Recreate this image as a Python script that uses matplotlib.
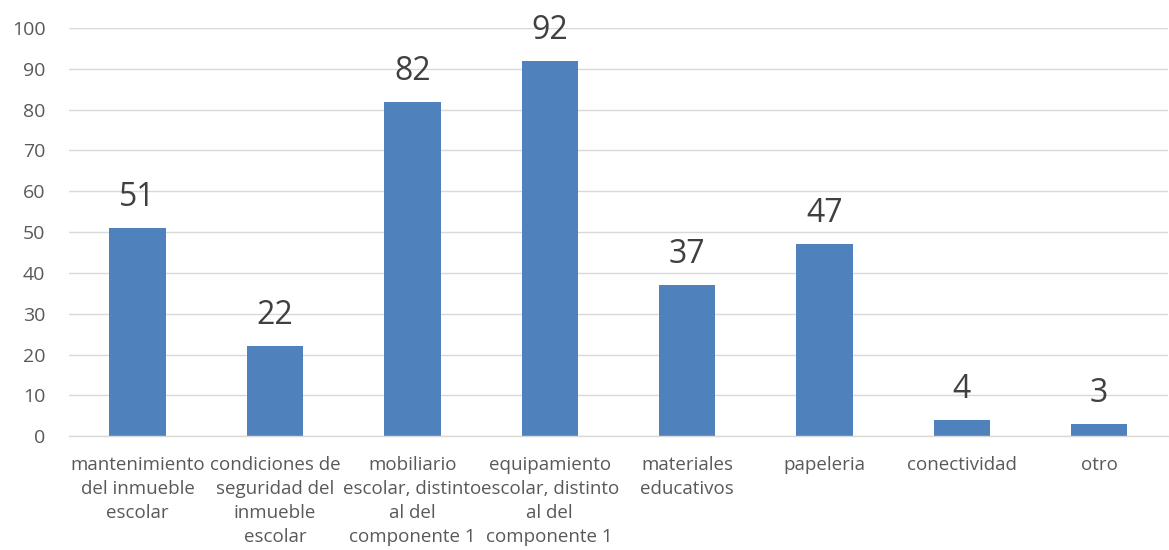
import matplotlib
matplotlib.use("Agg")
import matplotlib.pyplot as plt

categorias = [
    "mantenimiento\ndel inmueble\nescolar",
    "condiciones de\nseguridad del\ninmueble\nescolar",
    "mobiliario\nescolar, distinto\nal del\ncomponente 1",
    "equipamiento\nescolar, distinto\nal del\ncomponente 1",
    "materiales\neducativos",
    "papeleria",
    "conectividad",
    "otro",
]
valores = [51, 22, 82, 92, 37, 47, 4, 3]
yticks = list(range(0, 101, 10))

plt.rcParams["font.family"] = ["Open Sans", "DejaVu Sans"]

fig = plt.figure(figsize=(11.69, 5.5), dpi=100)
ax = fig.add_axes([0.059, 0.207, 0.94, 0.742])

x = range(len(categorias))
bars = ax.bar(x, valores, width=0.41, color="#4f81bd", zorder=2)

# etiquetas de valor sobre cada barra
for b, v in zip(bars, valores):
    ax.annotate(str(v), (b.get_x() + b.get_width() / 2, v),
                xytext=(0, 10), textcoords="offset points",
                ha="center", va="bottom", fontsize=23, color="#404040")

ax.set_xlim(-0.5, len(categorias) - 0.5)
ax.set_ylim(0, 100)
ax.set_yticks(yticks)
ax.set_xticks(list(x))
ax.set_xticklabels(categorias, fontsize=13.5, color="#595959", linespacing=1.45)
ax.tick_params(axis="y", labelsize=14, labelcolor="#595959", length=0, pad=17)
ax.tick_params(axis="x", length=0, pad=14)
ax.grid(axis="y", color="#d9d9d9", linewidth=1, zorder=0)
ax.set_axisbelow(True)

for s in ["top", "right", "left"]:
    ax.spines[s].set_visible(False)
ax.spines["bottom"].set_color("#d9d9d9")
ax.spines["bottom"].set_linewidth(1)

fig.savefig("out.png", dpi=100)
